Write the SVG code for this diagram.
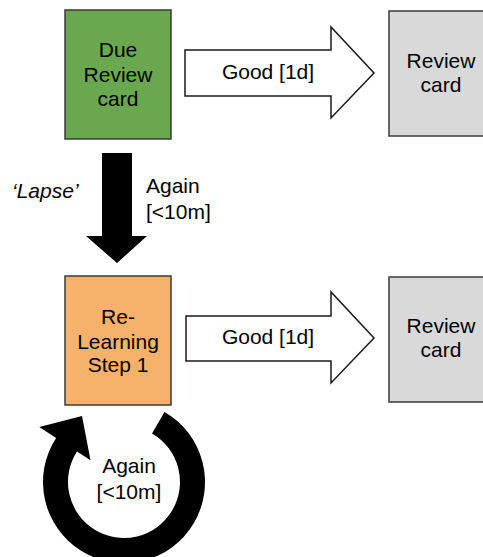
<svg xmlns="http://www.w3.org/2000/svg" width="483" height="557" viewBox="0 0 483 557">
  <style>
    .box { stroke: #3a3a3a; stroke-width: 1.5; }
    .due { fill: #6aa84f; }
    .relearn { fill: #f6b26b; }
    .review { fill: #d9d9d9; }
    .label { font-family: "Liberation Sans", Arial, sans-serif; font-size: 21px; fill: #000; }
    .mid { text-anchor: middle; }
    .hollow { fill: #fff; stroke: #1a1a1a; stroke-width: 1.5; stroke-linejoin: miter; }
    .solid { fill: #000; stroke: none; }
  </style>

  <rect width="483" height="557" fill="#fff"/>

  <!-- Connectors -->
  <g id="connectors">
    <!-- Due -> Review: Good -->
    <g id="good-top">
      <path class="hollow" d="M185,50 L331,50 L331,27 L374,73 L331,118 L331,96 L185,96 Z"/>
      <text class="label mid" x="268" y="79">Good [1d]</text>
    </g>
    <!-- Due -> Relearning: Again (lapse) -->
    <g id="lapse">
      <path class="solid" d="M102,153 L132,153 L132,236 L147,236 L117,263 L86,236 L102,236 Z"/>
      <text class="label" x="12" y="198" font-style="italic">‘Lapse’</text>
      <text class="label" x="146" y="193">Again</text>
      <text class="label" x="146" y="219">[&lt;10m]</text>
    </g>
    <!-- Relearning -> Review: Good -->
    <g id="good-bottom">
      <path class="hollow" d="M186,316 L331,316 L331,292 L374,338 L331,383 L331,361 L186,361 Z"/>
      <text class="label mid" x="268" y="344">Good [1d]</text>
    </g>
    <!-- Relearning loop: Again -->
    <g id="again-loop">
      <path class="solid" d="M164.5,411.9 A81,81 0 1 1 56.1,437.9 L39.3,427 L82,416 L90.5,460.2 L77,451.5 A56,56 0 1 0 152,433.5 Z"/>
      <text class="label mid" x="129" y="473">Again</text>
      <text class="label mid" x="129" y="499">[&lt;10m]</text>
    </g>
  </g>

  <!-- Nodes -->
  <g id="due-review">
    <rect class="box due" x="65" y="10" width="106" height="129"/>
    <text class="label mid" x="118" y="57">Due</text>
    <text class="label mid" x="118" y="82">Review</text>
    <text class="label mid" x="118" y="106">card</text>
  </g>

  <g id="review-top">
    <rect class="box review" x="389" y="11" width="106" height="125"/>
    <text class="label mid" x="441" y="68">Review</text>
    <text class="label mid" x="441" y="92">card</text>
  </g>

  <g id="relearning-step-1">
    <rect class="box relearn" x="65" y="276" width="106" height="129"/>
    <text class="label mid" x="118" y="324">Re-</text>
    <text class="label mid" x="118" y="349">Learning</text>
    <text class="label mid" x="118" y="372">Step 1</text>
  </g>

  <g id="review-bottom">
    <rect class="box review" x="389" y="277" width="106" height="125"/>
    <text class="label mid" x="441" y="333">Review</text>
    <text class="label mid" x="441" y="357">card</text>
  </g>
</svg>
